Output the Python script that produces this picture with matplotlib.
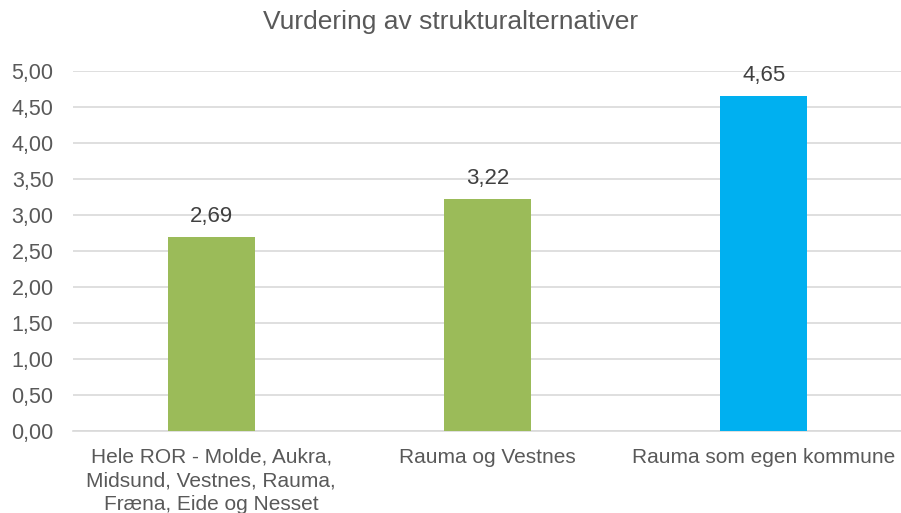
import matplotlib
matplotlib.use("Agg")
from matplotlib import pyplot as plt

categories = ["Hele ROR - Molde, Aukra,\nMidsund, Vestnes, Rauma,\nFræna, Eide og Nesset",
              "Rauma og Vestnes",
              "Rauma som egen kommune"]
values = [2.69, 3.22, 4.65]
colors = ["#9BBB59", "#9BBB59", "#00B0F0"]
yticks = [0, 0.5, 1.0, 1.5, 2.0, 2.5, 3.0, 3.5, 4.0, 4.5, 5.0]

plt.rcParams['font.family'] = ['Liberation Sans', 'DejaVu Sans']

fig = plt.figure(figsize=(9.01, 5.13), dpi=100)
ax = fig.add_axes([73 / 901, 1 - 431 / 513, 829 / 901, 360 / 513])

x = list(range(len(categories)))
bars = ax.bar(x, values, width=0.315, color=colors, zorder=3)

for xi, v in zip(x, values):
    ax.text(xi, v + 0.14, f"{v:.2f}".replace(".", ","), ha="center", va="bottom",
            fontsize=16, color="#404040")

ax.set_xlim(-0.5, len(categories) - 0.5)
ax.set_ylim(0, 5)
ax.set_yticks(yticks)
ax.set_yticklabels([f"{t:.2f}".replace(".", ",") for t in yticks])
ax.set_xticks(x)
ax.set_xticklabels(categories, linespacing=1.3, fontsize=15)

ax.grid(axis="y", color="#D9D9D9", linewidth=1.2, zorder=0)
for s in ["top", "right", "left"]:
    ax.spines[s].set_visible(False)
ax.spines["bottom"].set_color("#D9D9D9")
ax.spines["bottom"].set_linewidth(1.2)
ax.tick_params(axis="both", length=0, labelsize=15.5, labelcolor="#595959")
ax.tick_params(axis="x", labelsize=15)
ax.tick_params(axis="y", pad=14)
ax.tick_params(axis="x", pad=12)

fig.text(0.5, 1 - 22 / 513, "Vurdering av strukturalternativer", ha="center", va="center",
         fontsize=19, color="#595959")

plt.savefig("out.png", dpi=100)
plt.close()
